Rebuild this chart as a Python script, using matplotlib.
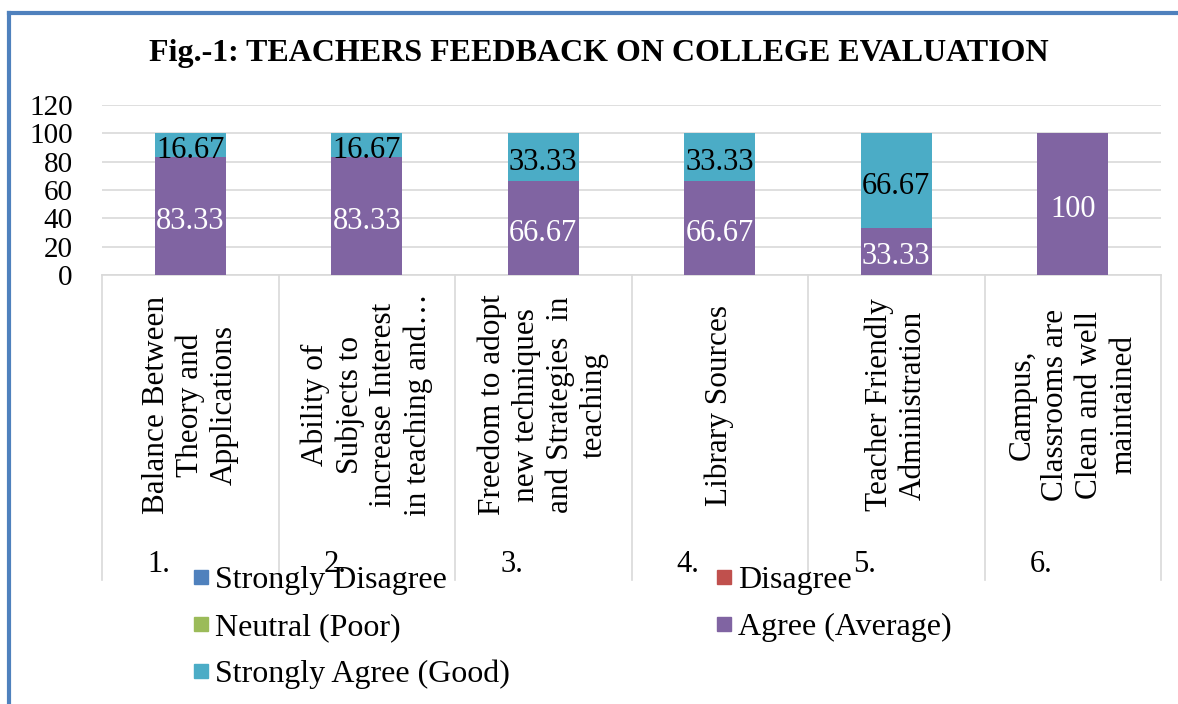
import matplotlib
matplotlib.use("Agg")
import matplotlib.pyplot as plt
import matplotlib.transforms as mtransforms
from matplotlib.lines import Line2D

# data
categories = [
    "Balance Between\nTheory and\nApplications",
    "Ability of\nSubjects to\nincrease Interest\nin teaching and\u2026",
    "Freedom to adopt\nnew techniques\nand Strategies  in\nteaching",
    "Library Sources",
    "Teacher Friendly\nAdministration",
    "Campus,\nClassrooms are\nClean and well\nmaintained",
]
numbers = ["1.", "2.", "3.", "4.", "5.", "6."]

strongly_disagree = [0, 0, 0, 0, 0, 0]
disagree = [0, 0, 0, 0, 0, 0]
neutral = [0, 0, 0, 0, 0, 0]
agree = [83.33, 83.33, 66.67, 66.67, 33.33, 100]
strongly_agree = [16.67, 16.67, 33.33, 33.33, 66.67, 0]

series_names = ["Strongly Disagree", "Disagree", "Neutral (Poor)",
                "Agree (Average)", "Strongly Agree (Good)"]
colors = ["#4F81BD", "#C0504D", "#9BBB59", "#8064A2", "#4BACC6"]
label_colors = ["black", "black", "black", "white", "black"]

W, H = 1178, 704
plt.rcParams["font.family"] = ["Liberation Serif", "DejaVu Serif"]


def fx(px):
    return px / W


def fy(py):
    return 1 - py / H


fig = plt.figure(figsize=(W / 100, H / 100), dpi=100)
ax = fig.add_axes([fx(102), fy(275), fx(1161) - fx(102), fy(105) - fy(275)])

x = list(range(len(categories)))
bottom = [0.0] * len(x)
series = [strongly_disagree, disagree, neutral, agree, strongly_agree]
for vals, name, c, lc in zip(series, series_names, colors, label_colors):
    bars = ax.bar(x, vals, 0.4, bottom=bottom, color=c, label=name, zorder=3)
    labels = [f"{v:g}" if v else "" for v in vals]
    anns = ax.bar_label(bars, labels=labels, label_type="center", color=lc,
                        fontsize=22, zorder=4)
    for a in anns:
        a.xyann = (0, -4)
    bottom = [b + v for b, v in zip(bottom, vals)]

ax.set_xlim(-0.5, len(x) - 0.5)
ax.set_ylim(0, 120)
ax.set_yticks(range(0, 121, 20))
ax.tick_params(axis="y", length=0, labelsize=21, pad=21)
ax.tick_params(axis="x", length=0, labelbottom=False)
ax.grid(axis="y", color="#D9D9D9", linewidth=1.2, zorder=0)
for s in ["top", "right", "left"]:
    ax.spines[s].set_visible(False)
ax.spines["bottom"].set_color("#D9D9D9")
ax.spines["bottom"].set_linewidth(1.2)

# category boxes below the axis
trans = mtransforms.blended_transform_factory(ax.transData, fig.transFigure)
for i in range(len(x) + 1):
    ax.plot([i - 0.5, i - 0.5], [fy(275), fy(580)], color="#D9D9D9",
            linewidth=1.2, transform=trans, clip_on=False)
for i, (cat, num) in enumerate(zip(categories, numbers)):
    ax.text(i, fy(405), cat, rotation=90, ha="center", va="center",
            multialignment="center", fontsize=22.5, linespacing=1.22,
            transform=trans)
    ax.text(i - 0.18, fy(564), num, ha="center", va="center",
            fontsize=22, transform=trans)

fig.text(fx(599), fy(53), "Fig.-1: TEACHERS FEEDBACK ON COLLEGE EVALUATION",
         ha="center", va="center", fontsize=23, fontweight="bold")

# legend: two columns, row-major order as in the original
handles = [Line2D([], [], marker="s", linestyle="none", markersize=9.5,
                  color=c) for c in colors]
order = [0, 2, 4, 1, 3]
fig.legend([handles[i] for i in order], [series_names[i] for i in order],
           loc="upper left", bbox_to_anchor=(fx(194), fy(566)), ncol=2,
           frameon=False, fontsize=23, handlelength=0.45, handletextpad=0.2,
           columnspacing=6.5, labelspacing=0.55, borderpad=0,
           borderaxespad=0)

# blue frame around the figure
fig.add_artist(Line2D([fx(9), fx(1180)], [fy(13), fy(13)], color="#4F81BD",
                      linewidth=3, transform=fig.transFigure))
fig.add_artist(Line2D([fx(9), fx(9)], [fy(13), fy(710)], color="#4F81BD",
                      linewidth=3, transform=fig.transFigure))

fig.savefig("out.png", dpi=100)
